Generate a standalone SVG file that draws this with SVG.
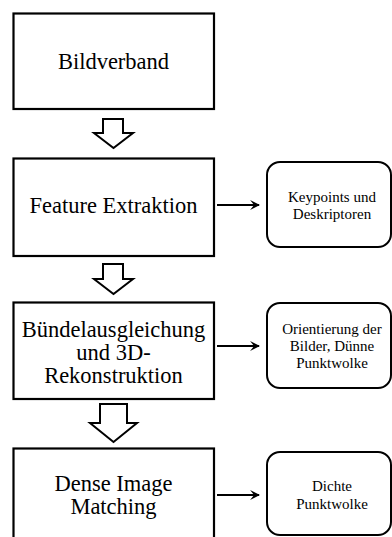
<svg xmlns="http://www.w3.org/2000/svg" width="392" height="537" viewBox="0 0 392 537">
  <style>
    .box { fill: #ffffff; stroke: #000000; stroke-width: 2.2; }
    .rbox { fill: #ffffff; stroke: #000000; stroke-width: 2; }
    .main { font-size: 22.5px; fill: #000000; text-anchor: middle; }
    .side { font-size: 15px; fill: #000000; text-anchor: middle; }
    .flow { fill: #ffffff; stroke: #000000; stroke-width: 2; stroke-linejoin: miter; }
    .link { fill: none; stroke: #000000; stroke-width: 2.2; }
  </style>
  <defs>
    <marker id="head" viewBox="0 0 10 10" refX="9" refY="5" markerWidth="4.5" markerHeight="4.5" orient="auto" markerUnits="strokeWidth">
      <path d="M0,0 L10,5 L0,10 L4,5 Z" fill="#000000"/>
    </marker>
  </defs>
  <rect width="392" height="537" fill="#ffffff"/>

  <!-- process steps and results share one serif face -->
  <g font-family="Times New Roman, Liberation Serif, serif">
    <g id="bildverband">
      <rect class="box" x="13.5" y="13.5" width="200.5" height="95.5"/>
      <text class="main" x="113.5" y="69">Bildverband</text>
    </g>
    <g id="feature-extraktion">
      <rect class="box" x="13.5" y="158.5" width="200.5" height="97.5"/>
      <text class="main" x="113.5" y="213">Feature Extraktion</text>
    </g>
    <g id="buendelausgleichung">
      <rect class="box" x="13.5" y="302.5" width="200.5" height="96.5"/>
      <text class="main" x="113.5" y="337">Bündelausgleichung</text>
      <text class="main" x="113.5" y="360">und 3D-</text>
      <text class="main" x="113.5" y="383">Rekonstruktion</text>
    </g>
    <g id="dense-image-matching">
      <rect class="box" x="13.5" y="448.5" width="200.5" height="100"/>
      <text class="main" x="113.5" y="491">Dense Image</text>
      <text class="main" x="113.5" y="514">Matching</text>
    </g>

    <g id="keypoints">
      <rect class="rbox" x="267" y="162" width="124" height="85" rx="13"/>
      <text class="side" x="332" y="202">Keypoints und</text>
      <text class="side" x="332" y="219">Deskriptoren</text>
    </g>
    <g id="orientierung">
      <rect class="rbox" x="267" y="303" width="124" height="85" rx="13"/>
      <text class="side" x="332" y="334">Orientierung der</text>
      <text class="side" x="332" y="351">Bilder, Dünne</text>
      <text class="side" x="332" y="368">Punktwolke</text>
    </g>
    <g id="dichte-punktwolke">
      <rect class="rbox" x="267" y="452" width="124" height="83" rx="13"/>
      <text class="side" x="332" y="491">Dichte</text>
      <text class="side" x="332" y="509">Punktwolke</text>
    </g>
  </g>

  <!-- connectors -->
  <g id="connectors">
    <path class="flow" d="M103,119 L123,119 L123,133 L133,133 L113.5,148 L94,133 L103,133 Z"/>
    <path class="flow" d="M103,264 L123,264 L123,279 L133,279 L113.5,294 L94,279 L103,279 Z"/>
    <path class="flow" d="M100,404 L127,404 L127,423 L137,423 L113.5,442 L90,423 L100,423 Z"/>
    <line class="link" x1="217" y1="205" x2="259" y2="205" marker-end="url(#head)"/>
    <line class="link" x1="217" y1="346" x2="259" y2="346" marker-end="url(#head)"/>
    <line class="link" x1="217" y1="495" x2="259" y2="495" marker-end="url(#head)"/>
  </g>
</svg>
